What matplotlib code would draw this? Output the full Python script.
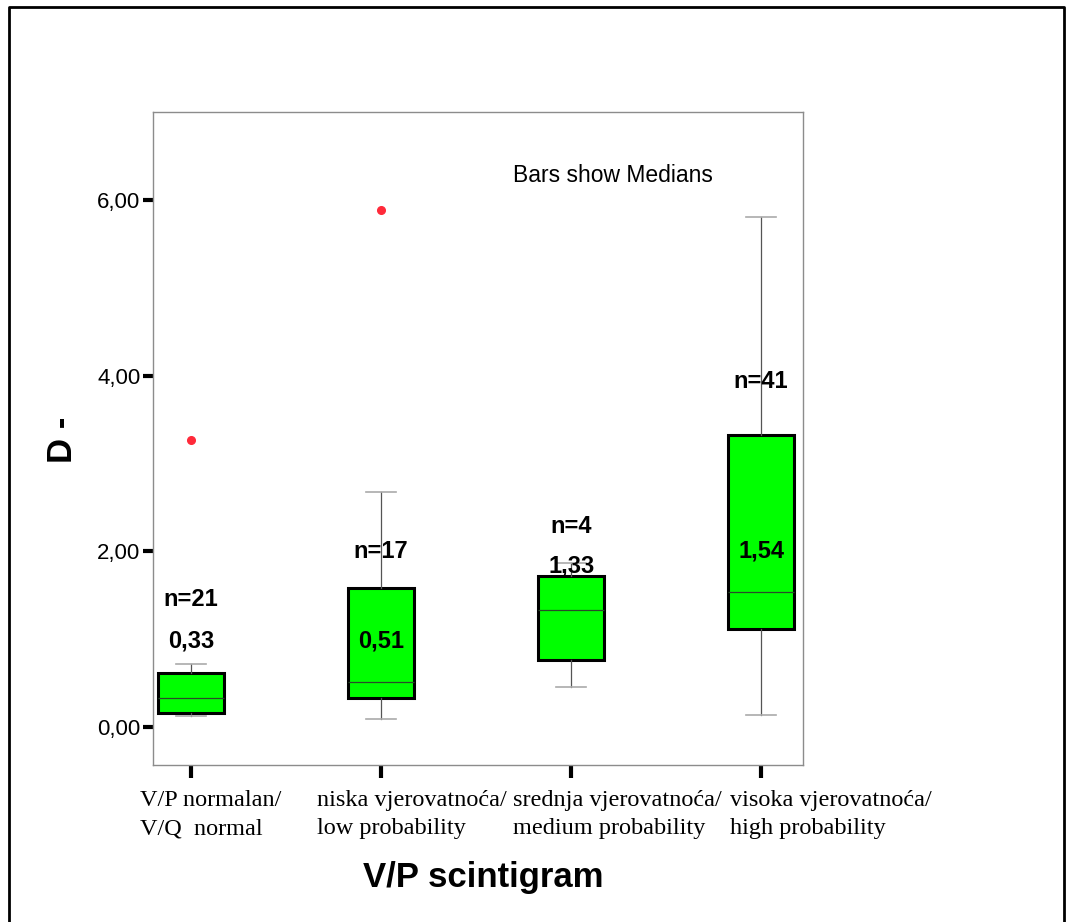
import matplotlib.pyplot as plt
import matplotlib.transforms as mtransforms
from matplotlib.lines import Line2D

# box statistics for D- per V/P scintigram category
categories = ["V/P normalan/\nV/Q  normal",
              "niska vjerovatnoća/\nlow probability",
              "srednja vjerovatnoća/\nmedium probability",
              "visoka vjerovatnoća/\nhigh probability"]
n_counts = [21, 17, 4, 41]
medians = [0.33, 0.51, 1.33, 1.54]
q1 = [0.16, 0.33, 0.76, 1.12]
q3 = [0.62, 1.58, 1.72, 3.33]
whis_lo = [0.125, 0.09, 0.46, 0.14]
whis_hi = [0.72, 2.68, 1.87, 5.81]
outliers = [[3.27], [5.88], [], []]

# label heights (data units) for the n= and median texts
n_label_y = [1.45, 2.00, 2.28, 3.93]
med_label_y = [0.98, 0.98, 1.83, 2.00]

fig = plt.figure(figsize=(10.69, 9.22), dpi=100)
ax = fig.add_axes([153 / 1069, 1 - 765 / 922, 650 / 1069, 653 / 922])

stats = []
for i in range(len(categories)):
    stats.append({"med": medians[i], "q1": q1[i], "q3": q3[i],
                  "whislo": whis_lo[i], "whishi": whis_hi[i],
                  "fliers": outliers[i]})

positions = [1, 2, 3, 4]
ax.bxp(stats, positions=positions, widths=0.35, patch_artist=True,
       boxprops=dict(facecolor="#00ff00", edgecolor="black", linewidth=2.2),
       medianprops=dict(color="#2a4a2a", linewidth=0.9),
       whiskerprops=dict(color="#555555", linewidth=0.9),
       capprops=dict(color="#aaaaaa", linewidth=1.2),
       capwidths=0.16,
       flierprops=dict(marker="o", markersize=5.5, markerfacecolor="#ff2a3a",
                       markeredgecolor="#ff2a3a"))

for i, x in enumerate(positions):
    ax.text(x, n_label_y[i], f"n={n_counts[i]}", ha="center", va="center",
            fontsize=17, fontweight="bold", family="Liberation Sans")
    ax.text(x, med_label_y[i], f"{medians[i]:.2f}".replace(".", ","),
            ha="center", va="center", fontsize=17, fontweight="bold",
            family="Liberation Sans")

ax.set_xlim(0.8, 4.22)
ax.set_ylim(-0.43, 7.0)

yt = [0, 2, 4, 6]
ax.set_yticks(yt, [f"{v:.2f}".replace(".", ",") for v in yt])
ax.tick_params(axis="y", direction="out", length=7, width=3, pad=2,
               labelsize=16, labelfontfamily="Liberation Sans")
ax.set_xticks(positions, categories)
ax.tick_params(axis="x", direction="out", length=9, width=3, pad=9,
               labelsize=17.5, labelfontfamily="Liberation Serif")

# shift the category labels so they hang off to the right of the ticks
shifts = [-51, -64, -58, -31]
for lbl, dx in zip(ax.get_xticklabels(), shifts):
    lbl.set_horizontalalignment("left")
    lbl.set_multialignment("left")
    lbl.set_linespacing(1.45)
    lbl.set_transform(lbl.get_transform() +
                      mtransforms.ScaledTranslation(dx / 100, 0, fig.dpi_scale_trans))

for sp in ax.spines.values():
    sp.set_color("#8c8c8c")
    sp.set_linewidth(1.0)

fig.text(513 / 1069, 1 - 176 / 922, "Bars show Medians", fontsize=16.5,
         family="Liberation Sans", va="center", ha="left")

fig.text(62 / 1069, 1 - 440 / 922, "D -", rotation=90, ha="center", va="center",
         fontsize=25, fontweight="bold", family="Liberation Sans")
fig.text(483 / 1069, 1 - 877 / 922, "V/P scintigram", ha="center", va="center",
         fontsize=25, fontweight="bold", family="Liberation Sans")

# outer frame (left, top, right edges)
frame_x = [9, 9, 1064, 1064]
frame_y = [922, 7, 7, 922]
fig.add_artist(Line2D([x / 1069 for x in frame_x], [1 - y / 922 for y in frame_y],
                      color="black", linewidth=2, transform=fig.transFigure))

fig.savefig("out.png", dpi=100)
